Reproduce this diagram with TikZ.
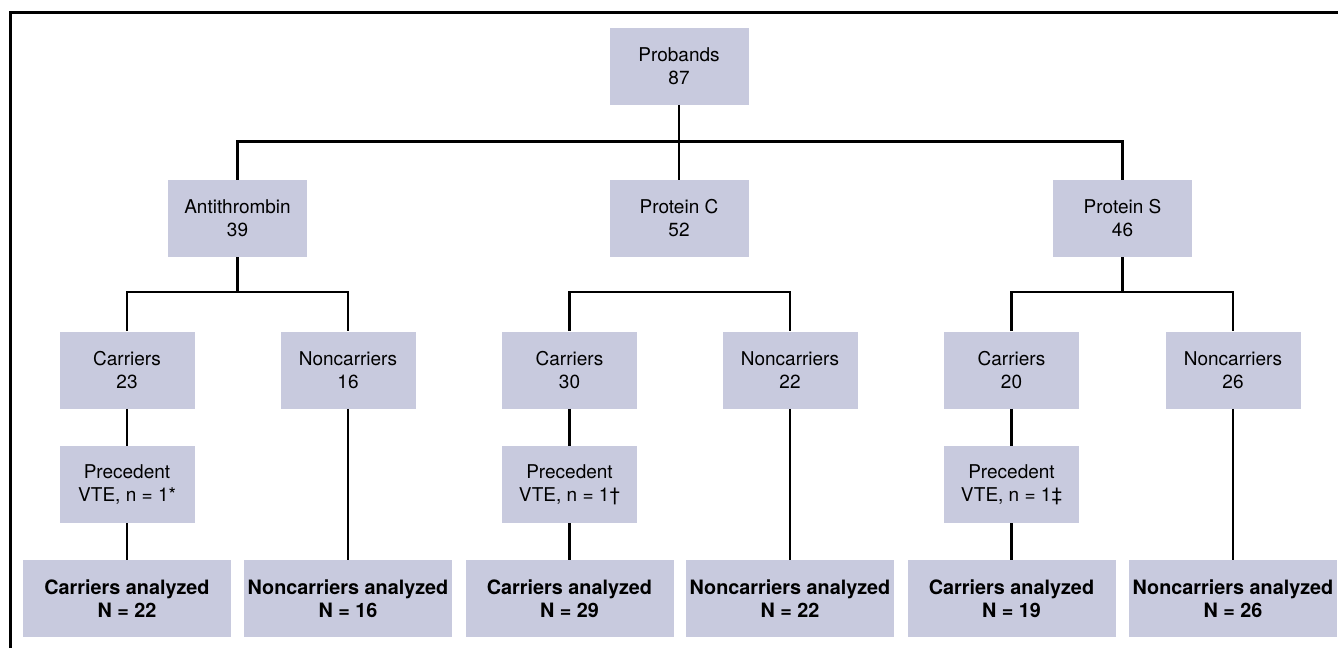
\documentclass[tikz,border=0pt]{standalone}
\usepackage{fontspec}
\setmainfont{TeX Gyre Heros}
\usepackage{tikz}
\definecolor{boxfill}{RGB}{200,202,222}

\begin{document}
\begin{tikzpicture}[x=0.5pt, y=-0.5pt,
		box/.style={fill=boxfill, inner sep=0pt, align=center, minimum width=69.5pt,
			minimum height=38.5pt, font=\fontsize{9.5}{11.5}\selectfont},
		subbox/.style={box, minimum width=67.5pt},
		endbox/.style={box, minimum width=104pt, font=\fontsize{9.9}{11.5}\selectfont\bfseries},
		link/.style={line width=1.3pt}]
		\useasboundingbox (0,0) rectangle (1338,648);
		\draw[line width=1.5pt] (10,648) -- (10,12) -- (1338,12);
		\node[box] (prob) at (679,66) {Probands\\87};
		\node[box] (at) at (237.5,218.5) {Antithrombin\\39};
		\node[box] (pc) at (679,218.5) {Protein C\\52};
		\node[box] (ps) at (1122.5,218.5) {Protein S\\46};
		\node[subbox] (atc) at (127,370) {Carriers\\23};
		\node[subbox] (atn) at (348,370) {Noncarriers\\16};
		\node[subbox] (pcc) at (569.5,370) {Carriers\\30};
		\node[subbox] (pcn) at (790,370) {Noncarriers\\22};
		\node[subbox] (psc) at (1011.5,370) {Carriers\\20};
		\node[subbox] (psn) at (1233,370) {Noncarriers\\26};
		\node[subbox] (atv) at (127,484.5) {Precedent\\VTE, n = 1*};
		\node[subbox] (pcv) at (569.5,484.5) {Precedent\\VTE, n = 1†};
		\node[subbox] (psv) at (1011.5,484.5) {Precedent\\VTE, n = 1‡};
		\node[endbox] (ata) at (127,598.5) {Carriers analyzed\\N = 22};
		\node[endbox] (atna) at (348,598.5) {Noncarriers analyzed\\N = 16};
		\node[endbox] (pca) at (569.5,598.5) {Carriers analyzed\\N = 29};
		\node[endbox] (pcna) at (790,598.5) {Noncarriers analyzed\\N = 22};
		\node[endbox] (psa) at (1011.5,598.5) {Carriers analyzed\\N = 19};
		\node[endbox] (psna) at (1233,598.5) {Noncarriers analyzed\\N = 26};
		\draw[link] (prob) -- (pc);
		\draw[link] (at.north) -- ++(0,-38) -| (ps.north);
		\draw[link] (at.south) -- ++(0,36);
		\draw[link] (ps.south) -- ++(0,36);
		\draw[link] (atc.north) -- ++(0,-39) -| (atn.north);
		\draw[link] (pcc.north) -- ++(0,-39) -| (pcn.north);
		\draw[link] (psc.north) -- ++(0,-39) -| (psn.north);
		\draw[link] (atc) -- (atv);
		\draw[link] (pcc) -- (pcv);
		\draw[link] (psc) -- (psv);
		\draw[link] (atv) -- (ata);
		\draw[link] (pcv) -- (pca);
		\draw[link] (psv) -- (psa);
		\draw[link] (atn) -- (atna);
		\draw[link] (pcn) -- (pcna);
		\draw[link] (psn) -- (psna);
\end{tikzpicture}
\end{document}
